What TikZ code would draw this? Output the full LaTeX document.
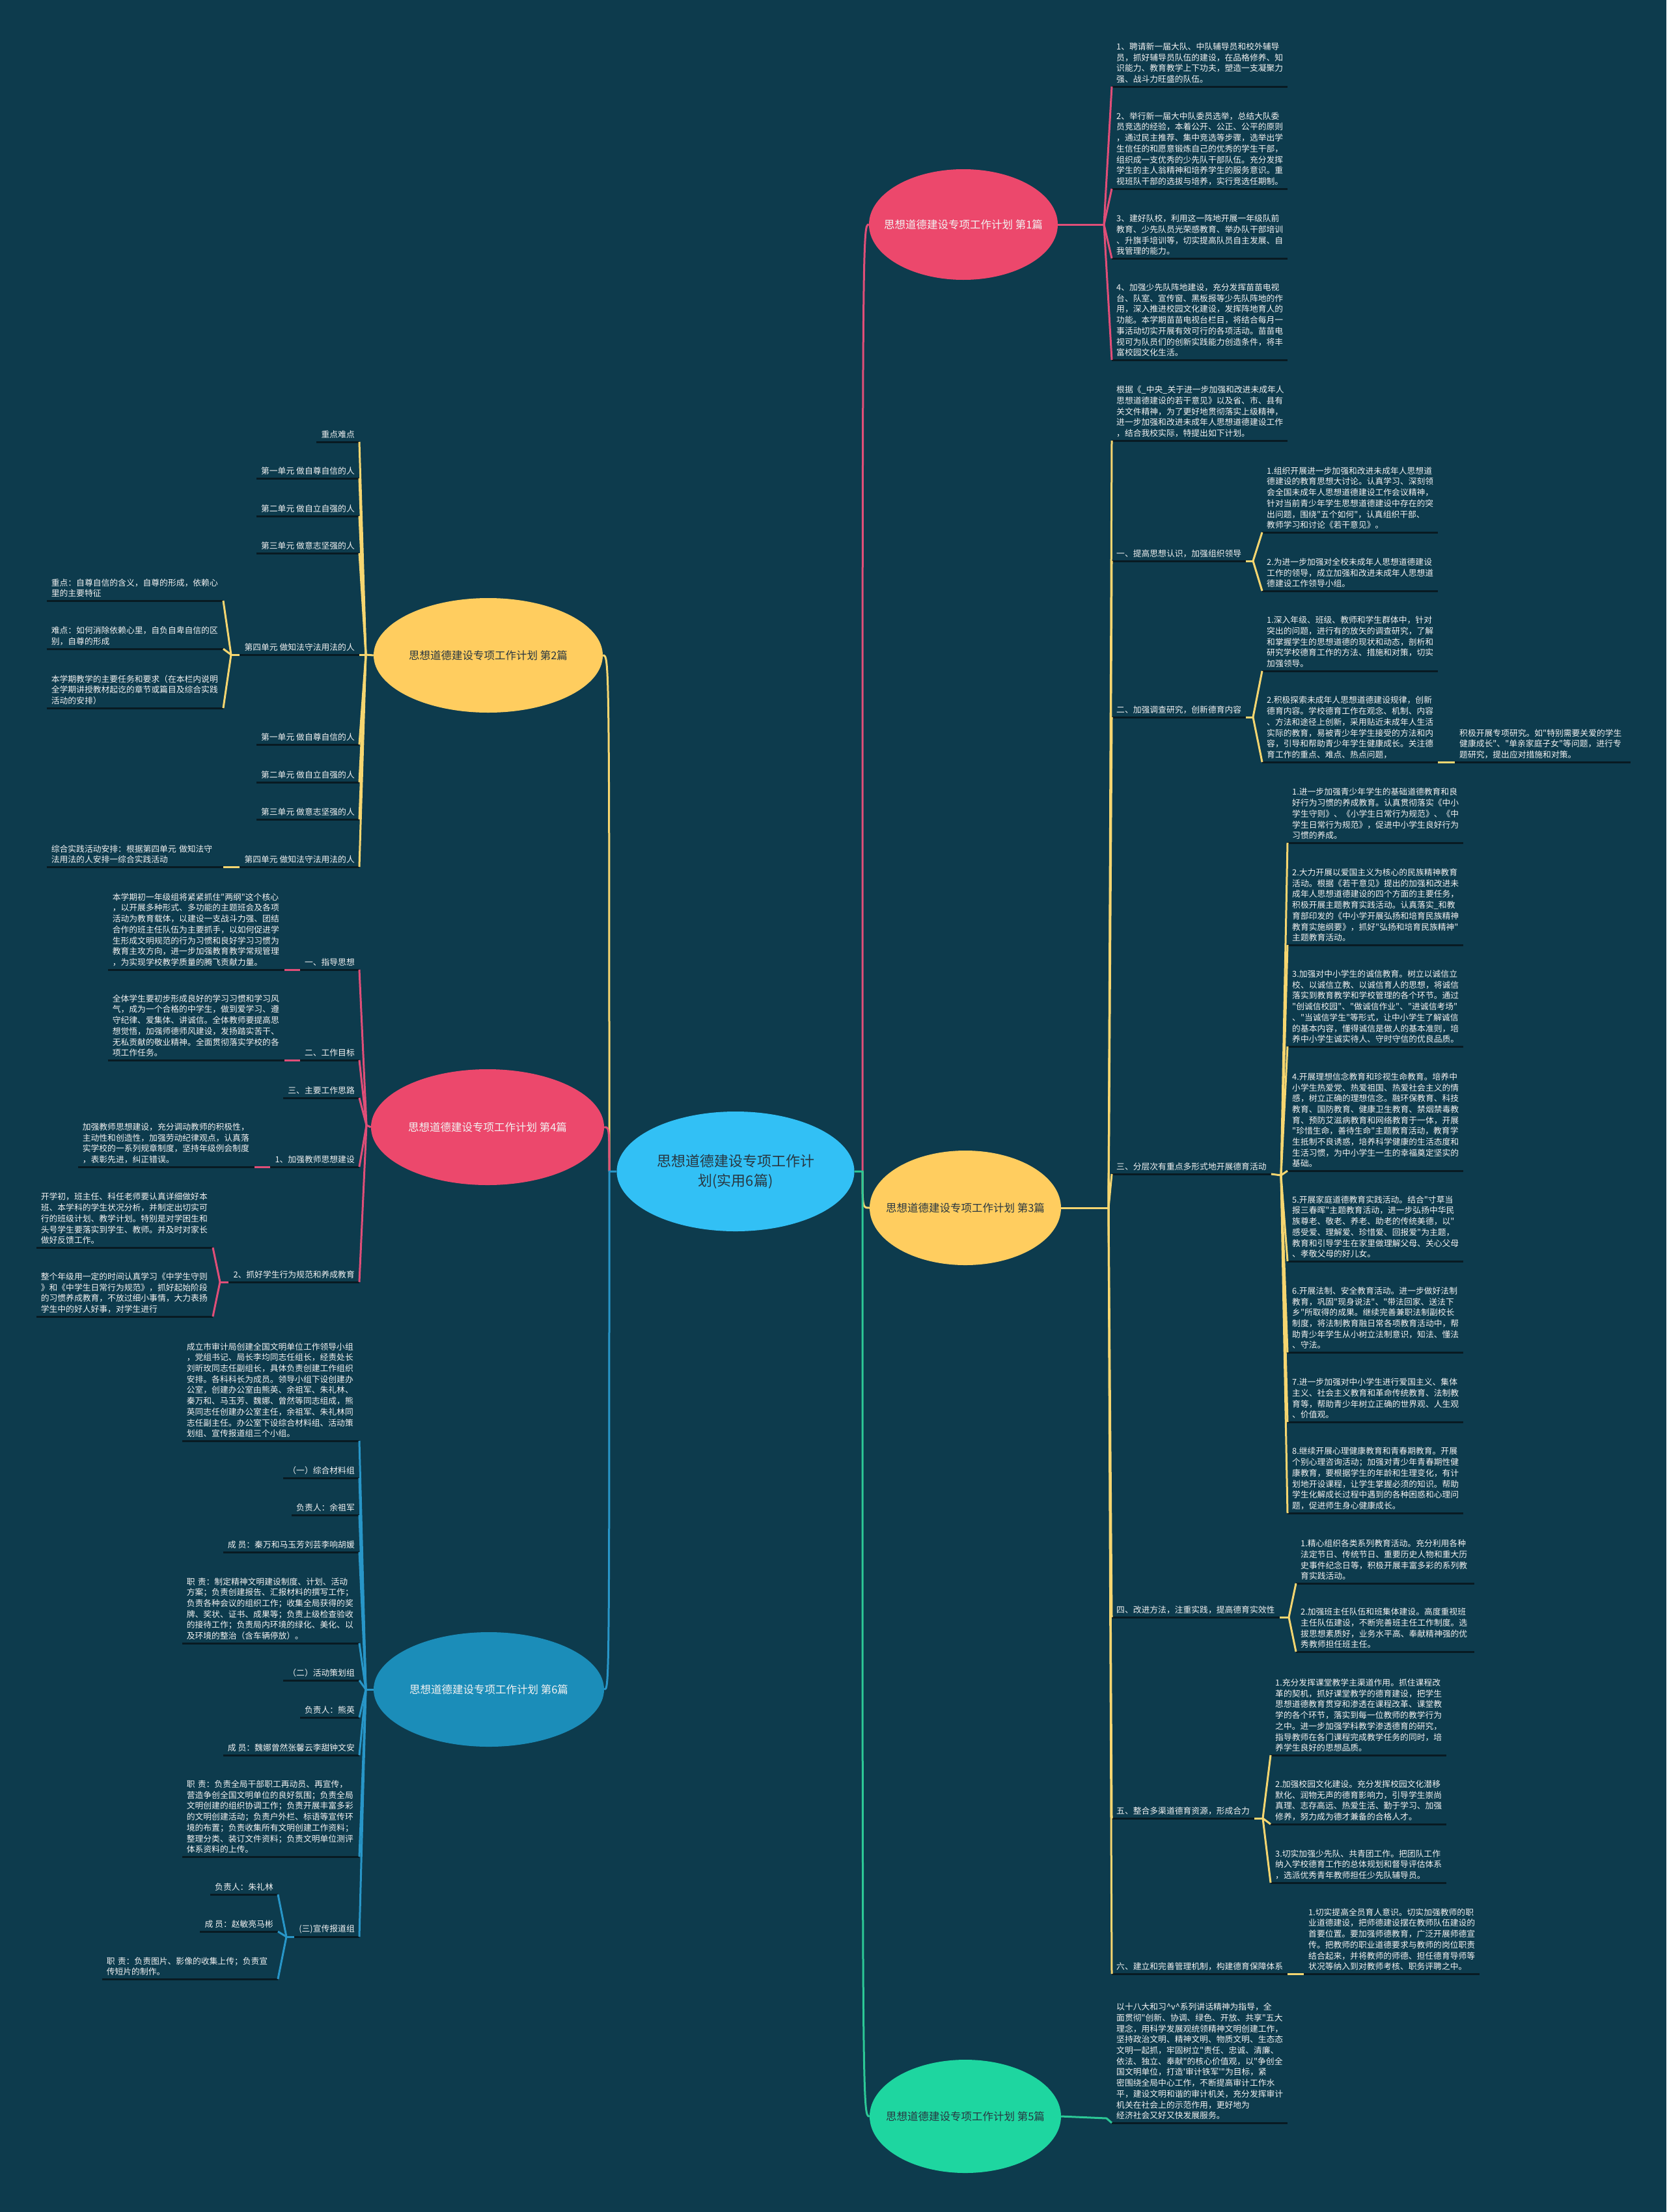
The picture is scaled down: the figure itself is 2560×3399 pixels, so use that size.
\documentclass[tikz,border=0pt]{standalone}
\usepackage{fontspec}
\setmainfont{Noto Sans CJK SC}[Ligatures=TeXOff]
\usetikzlibrary{shapes.geometric}
\definecolor{bg}{RGB}{13,59,77}
\definecolor{txt}{RGB}{242,242,242}
\definecolor{ulc}{RGB}{8,26,34}
\definecolor{cpink}{RGB}{236,72,108}
\definecolor{lpink}{RGB}{224,78,120}
\definecolor{cyel}{RGB}{255,205,95}
\definecolor{lyel}{RGB}{246,214,112}
\definecolor{cblue}{RGB}{27,141,185}
\definecolor{lblue}{RGB}{40,150,200}
\definecolor{cgreen}{RGB}{30,214,160}
\definecolor{lgreen}{RGB}{44,200,150}
\definecolor{ccent}{RGB}{50,192,245}
\definecolor{dtxt}{RGB}{40,55,65}
\newcommand\lff{\fontsize{12.8pt}{16.7pt}\selectfont}
\begin{document}
\begin{tikzpicture}[x=1pt,y=-1pt,
  lf/.style={font=\lff, text=txt, align=left, inner xsep=7pt, inner ysep=5pt},
  rleaf/.style={lf, anchor=south west},
  lleaf/.style={lf, anchor=south east},
  ul/.style={line width=3pt, draw=ulc},
  cn/.style={line width=3pt},
  br/.style={ellipse, inner sep=0pt},
  brt/.style={font=\fontsize{16.5}{20}\selectfont, inner sep=0pt}]
\fill[bg] (0,0) rectangle (2560,3399);
\useasboundingbox (0,0) rectangle (2560,3399);

% ---------- main nodes ----------
\node[br, fill=ccent, minimum width=365pt, minimum height=184pt, text=dtxt, align=center, font=\fontsize{22}{30}\selectfont] (c) at (1130,1800) {思想道德建设专项工作计\\划(实用6篇)};
\node[br, fill=cpink, minimum width=290pt, minimum height=170pt, label={[brt,text=txt]center:思想道德建设专项工作计划 第1篇}] (p1) at (1480,345) {};
\node[br, fill=cyel, minimum width=352pt, minimum height=176pt, label={[brt,text=dtxt]center:思想道德建设专项工作计划 第2篇}] (p2) at (750,1007) {};
\node[br, fill=cyel, minimum width=294pt, minimum height=176pt, label={[brt,text=dtxt]center:思想道德建设专项工作计划 第3篇}] (p3) at (1483,1856) {};
\node[br, fill=cpink, minimum width=358pt, minimum height=178pt, label={[brt,text=txt]center:思想道德建设专项工作计划 第4篇}] (p4) at (749,1732) {};
\node[br, fill=cgreen, minimum width=294pt, minimum height=174pt, label={[brt,text=dtxt]center:思想道德建设专项工作计划 第5篇}] (p5) at (1483,3252) {};
\node[br, fill=cblue, minimum width=354pt, minimum height=176pt, label={[brt,text=txt]center:思想道德建设专项工作计划 第6篇}] (p6) at (751,2596) {};

% ---------- 第1篇 ----------
\node[rleaf, text width=256pt] (a1) at (1708,133) {1、聘请新一届大队、中队辅导员和校外辅导\\员，抓好辅导员队伍的建设，在品格修养、知\\识能力、教育教学上下功夫，塑造一支凝聚力\\强、战斗力旺盛的队伍。};
\node[rleaf, text width=256pt] (a2) at (1708,290) {2、举行新一届大中队委员选举，总结大队委\\员竞选的经验，本着公开、公正、公平的原则\\，通过民主推荐、集中竞选等步骤，选举出学\\生信任的和愿意锻炼自己的优秀的学生干部，\\组织成一支优秀的少先队干部队伍。充分发挥\\学生的主人翁精神和培养学生的服务意识。重\\视班队干部的选拔与培养，实行竞选任期制。};
\node[rleaf, text width=256pt] (a3) at (1708,397) {3、建好队校，利用这一阵地开展一年级队前\\教育、少先队员光荣感教育、举办队干部培训\\、升旗手培训等，切实提高队员自主发展、自\\我管理的能力。};
\node[rleaf, text width=256pt] (a4) at (1708,553) {4、加强少先队阵地建设，充分发挥苗苗电视\\台、队室、宣传窗、黑板报等少先队阵地的作\\用，深入推进校园文化建设，发挥阵地育人的\\功能。本学期苗苗电视台栏目，将结合每月一\\事活动切实开展有效可行的各项活动。苗苗电\\视可为队员们的创新实践能力创造条件，将丰\\富校园文化生活。};

% ---------- 第3篇 ----------
\node[rleaf, text width=256pt] (b0) at (1708,677) {根据《\_中央\_关于进一步加强和改进未成年人\\思想道德建设的若干意见》以及省、市、县有\\关文件精神，为了更好地贯彻落实上级精神，\\进一步加强和改进未成年人思想道德建设工作\\，结合我校实际，特提出如下计划。};
\node[rleaf] (b1) at (1708,862) {一、提高思想认识，加强组织领导};
\node[rleaf, text width=256pt] (b11) at (1939,818) {1.组织开展进一步加强和改进未成年人思想道\\德建设的教育思想大讨论。认真学习、深刻领\\会全国未成年人思想道德建设工作会议精神，\\针对当前青少年学生思想道德建设中存在的突\\出问题，围绕"五个如何"，认真组织干部、\\教师学习和讨论《若干意见》。};
\node[rleaf, text width=256pt] (b12) at (1939,908) {2.为进一步加强对全校未成年人思想道德建设\\工作的领导，成立加强和改进未成年人思想道\\德建设工作领导小组。};
\node[rleaf] (b2) at (1708,1102) {二、加强调查研究，创新德育内容};
\node[rleaf, text width=256pt] (b21) at (1939,1031) {1.深入年级、班级、教师和学生群体中，针对\\突出的问题，进行有的放矢的调查研究，了解\\和掌握学生的思想道德的现状和动态，剖析和\\研究学校德育工作的方法、措施和对策，切实\\加强领导。};
\node[rleaf, text width=256pt] (b22) at (1939,1171) {2.积极探索未成年人思想道德建设规律，创新\\德育内容。学校德育工作在观念、机制、内容\\、方法和途径上创新，采用贴近未成年人生活\\实际的教育，易被青少年学生接受的方法和内\\容，引导和帮助青少年学生健康成长。关注德\\育工作的重点、难点、热点问题，};
\node[rleaf, text width=256pt] (b221) at (2235,1171) {积极开展专项研究。如"特别需要关爱的学生\\健康成长"、"单亲家庭子女"等问题，进行专\\题研究，提出应对措施和对策。};
\node[rleaf] (b3) at (1708,1804) {三、分层次有重点多形式地开展德育活动};
\node[rleaf, text width=256pt] (c1) at (1978,1295) {1.进一步加强青少年学生的基础道德教育和良\\好行为习惯的养成教育。认真贯彻落实《中小\\学生守则》、《小学生日常行为规范》、《中\\学生日常行为规范》，促进中小学生良好行为\\习惯的养成。};
\node[rleaf, text width=256pt] (c2) at (1978,1452) {2.大力开展以爱国主义为核心的民族精神教育\\活动。根据《若干意见》提出的加强和改进未\\成年人思想道德建设的四个方面的主要任务，\\积极开展主题教育实践活动。认真落实\_和教\\育部印发的《中小学开展弘扬和培育民族精神\\教育实施纲要》，抓好"弘扬和培育民族精神"\\主题教育活动。};
\node[rleaf, text width=256pt] (c3) at (1978,1608) {3.加强对中小学生的诚信教育。树立以诚信立\\校、以诚信立教、以诚信育人的思想，将诚信\\落实到教育教学和学校管理的各个环节。通过\\"创诚信校园"、"做诚信作业"、"进诚信考场"\\、"当诚信学生"等形式，让中小学生了解诚信\\的基本内容，懂得诚信是做人的基本准则，培\\养中小学生诚实待人、守时守信的优良品质。};
\node[rleaf, text width=256pt] (c4) at (1978,1799) {4.开展理想信念教育和珍视生命教育。培养中\\小学生热爱党、热爱祖国、热爱社会主义的情\\感，树立正确的理想信念。融环保教育、科技\\教育、国防教育、健康卫生教育、禁烟禁毒教\\育、预防艾滋病教育和网络教育于一体，开展\\"珍惜生命，善待生命"主题教育活动，教育学\\生抵制不良诱惑，培养科学健康的生活态度和\\生活习惯，为中小学生一生的幸福奠定坚实的\\基础。};
\node[rleaf, text width=256pt] (c5) at (1978,1938) {5.开展家庭道德教育实践活动。结合"寸草当\\报三春晖"主题教育活动，进一步弘扬中华民\\族尊老、敬老、养老、助老的传统美德，以"\\感受爱、理解爱、珍惜爱、回报爱"为主题，\\教育和引导学生在家里做理解父母、关心父母\\、孝敬父母的好儿女。};
\node[rleaf, text width=256pt] (c6) at (1978,2078) {6.开展法制、安全教育活动。进一步做好法制\\教育，巩固"现身说法"、"带法回家、送法下\\乡"所取得的成果。继续完善兼职法制副校长\\制度，将法制教育融日常各项教育活动中，帮\\助青少年学生从小树立法制意识，知法、懂法\\、守法。};
\node[rleaf, text width=256pt] (c7) at (1978,2185) {7.进一步加强对中小学生进行爱国主义、集体\\主义、社会主义教育和革命传统教育、法制教\\育等，帮助青少年树立正确的世界观、人生观\\、价值观。};
\node[rleaf, text width=256pt] (c8) at (1978,2325) {8.继续开展心理健康教育和青春期教育。开展\\个别心理咨询活动；加强对青少年青春期性健\\康教育，要根据学生的年龄和生理变化，有计\\划地开设课程，让学生掌握必须的知识。帮助\\学生化解成长过程中遇到的各种困惑和心理问\\题，促进师生身心健康成长。};
\node[rleaf] (b4) at (1708,2485) {四、改进方法，注重实践，提高德育实效性};
\node[rleaf, text width=260pt] (d1) at (1991,2433) {1.精心组织各类系列教育活动。充分利用各种\\法定节日、传统节日、重要历史人物和重大历\\史事件纪念日等，积极开展丰富多彩的系列教\\育实践活动。};
\node[rleaf, text width=260pt] (d2) at (1991,2538) {2.加强班主任队伍和班集体建设。高度重视班\\主任队伍建设，不断完善班主任工作制度。选\\拔思想素质好，业务水平高、奉献精神强的优\\秀教师担任班主任。};
\node[rleaf] (b5) at (1708,2794) {五、整合多渠道德育资源，形成合力};
\node[rleaf, text width=256pt] (e1) at (1952,2697) {1.充分发挥课堂教学主渠道作用。抓住课程改\\革的契机，抓好课堂教学的德育建设，把学生\\思想道德教育贯穿和渗透在课程改革、课堂教\\学的各个环节，落实到每一位教师的教学行为\\之中。进一步加强学科教学渗透德育的研究，\\指导教师在各门课程完成教学任务的同时，培\\养学生良好的思想品质。};
\node[rleaf, text width=256pt] (e2) at (1952,2803) {2.加强校园文化建设。充分发挥校园文化潜移\\默化、润物无声的德育影响力，引导学生崇尚\\真理、志存高远、热爱生活、勤于学习、加强\\修养，努力成为德才兼备的合格人才。};
\node[rleaf, text width=256pt] (e3) at (1952,2893) {3.切实加强少先队、共青团工作。把团队工作\\纳入学校德育工作的总体规划和督导评估体系\\，选派优秀青年教师担任少先队辅导员。};
\node[rleaf] (b6) at (1708,3033) {六、建立和完善管理机制，构建德育保障体系};
\node[rleaf, text width=256pt] (f1) at (2003,3033) {1.切实提高全员育人意识。切实加强教师的职\\业道德建设，把师德建设摆在教师队伍建设的\\首要位置。要加强师德教育，广泛开展师德宣\\传。把教师的职业道德要求与教师的岗位职责\\结合起来，并将教师的师德、担任德育导师等\\状况等纳入到对教师考核、职务评聘之中。};

% ---------- 第5篇 ----------
\node[rleaf, text width=256pt] (g1) at (1708,3262) {以十八大和习\textasciicircum v\textasciicircum 系列讲话精神为指导，全\\面贯彻"创新、协调、绿色、开放、共享"五大\\理念，用科学发展观统领精神文明创建工作，\\坚持政治文明、精神文明、物质文明、生态态\\文明一起抓，牢固树立"责任、忠诚、清廉、\\依法、独立、奉献"的核心价值观，以"争创全\\国文明单位，打造'审计铁军'"为目标，紧\\密围绕全局中心工作，不断提高审计工作水\\平，建设文明和谐的审计机关，充分发挥审计\\机关在社会上的示范作用，更好地为\\经济社会又好又快发展服务。};

% ---------- 第2篇 ----------
\node[lleaf] (l1) at (552,679) {重点难点};
\node[lleaf] (l2) at (552,735) {第一单元 做自尊自信的人};
\node[lleaf] (l3) at (552,793) {第二单元 做自立自强的人};
\node[lleaf] (l4) at (552,850) {第三单元 做意志坚强的人};
\node[lleaf] (l5) at (552,1006) {第四单元 做知法守法用法的人};
\node[lleaf, text width=257pt] (l51) at (343,923) {重点：自尊自信的含义，自尊的形成，依赖心\\里的主要特征};
\node[lleaf, text width=257pt] (l52) at (343,997) {难点：如何消除依赖心里，自负自卑自信的区\\别，自尊的形成};
\node[lleaf, text width=257pt] (l53) at (343,1088) {本学期教学的主要任务和要求（在本栏内说明\\全学期讲授教材起讫的章节或篇目及综合实践\\活动的安排）};
\node[lleaf] (l6) at (552,1144) {第一单元 做自尊自信的人};
\node[lleaf] (l7) at (552,1202) {第二单元 做自立自强的人};
\node[lleaf] (l8) at (552,1259) {第三单元 做意志坚强的人};
\node[lleaf] (l9) at (552,1332) {第四单元 做知法守法用法的人};
\node[lleaf, text width=257pt] (l91) at (343,1332) {综合实践活动安排：根据第四单元 做知法守\\法用法的人安排一综合实践活动};

% ---------- 第4篇 ----------
\node[lleaf] (m1) at (552,1490) {一、指导思想};
\node[lleaf, text width=257pt] (m11) at (437,1490) {本学期初一年级组将紧紧抓住"两纲"这个核心\\，以开展多种形式、多功能的主题班会及各项\\活动为教育载体，以建设一支战斗力强、团结\\合作的班主任队伍为主要抓手，以如何促进学\\生形成文明规范的行为习惯和良好学习习惯为\\教育主攻方向，进一步加强教育教学常规管理\\，为实现学校教学质量的腾飞贡献力量。};
\node[lleaf] (m2) at (552,1629) {二、工作目标};
\node[lleaf, text width=257pt] (m21) at (437,1629) {全体学生要初步形成良好的学习习惯和学习风\\气，成为一个合格的中学生，做到爱学习、遵\\守纪律、爱集体、讲诚信。全体教师要提高思\\想觉悟，加强师德师风建设，发扬踏实苦干、\\无私贡献的敬业精神。全面贯彻落实学校的各\\项工作任务。};
\node[lleaf] (m3) at (552,1687) {三、主要工作思路};
\node[lleaf] (m4) at (552,1793) {1、加强教师思想建设};
\node[lleaf, text width=257pt] (m41) at (391,1793) {加强教师思想建设，充分调动教师的积极性，\\主动性和创造性，加强劳动纪律观点，认真落\\实学校的一系列规章制度，坚持年级例会制度\\，表彰先进，纠正错误。};
\node[lleaf] (m5) at (552,1970) {2、抓好学生行为规范和养成教育};
\node[lleaf, text width=257pt] (m51) at (327,1917) {开学初，班主任、科任老师要认真详细做好本\\班、本学科的学生状况分析，并制定出切实可\\行的班级计划、教学计划。特别是对学困生和\\头号学生要落实到学生、教师。并及时对家长\\做好反馈工作。};
\node[lleaf, text width=257pt] (m52) at (327,2023) {整个年级用一定的时间认真学习《中学生守则\\》和《中学生日常行为规范》，抓好起始阶段\\的习惯养成教育，不放过细小事情，大力表扬\\学生中的好人好事，对学生进行};

% ---------- 第6篇 ----------
\node[lleaf, text width=258pt] (n1) at (552,2214) {成立市审计局创建全国文明单位工作领导小组\\，党组书记、局长李均同志任组长，经责处长\\刘昕玫同志任副组长，具体负责创建工作组织\\安排。各科科长为成员。领导小组下设创建办\\公室，创建办公室由熊英、余祖军、朱礼林、\\秦万和、马玉芳、魏娜、曾然等同志组成，熊\\英同志任创建办公室主任，余祖军、朱礼林同\\志任副主任。办公室下设综合材料组、活动策\\划组、宣传报道组三个小组。};
\node[lleaf] (n2) at (552,2271) {（一）综合材料组};
\node[lleaf] (n3) at (552,2328) {负责人：余祖军};
\node[lleaf] (n4) at (552,2385) {成 员：秦万和马玉芳刘芸李响胡媛};
\node[lleaf, text width=258pt] (n5) at (552,2525) {职 责：制定精神文明建设制度、计划、活动\\方案；负责创建报告、汇报材料的撰写工作；\\负责各种会议的组织工作；收集全局获得的奖\\牌、奖状、证书、成果等；负责上级检查验收\\的接待工作；负责局内环境的绿化、美化、以\\及环境的整治（含车辆停放）。};
\node[lleaf] (n6) at (552,2582) {（二）活动策划组};
\node[lleaf] (n7) at (552,2639) {负责人：熊英};
\node[lleaf] (n8) at (552,2697) {成 员：魏娜曾然张馨云李甜钟文安};
\node[lleaf, text width=258pt] (n9) at (552,2853) {职 责：负责全局干部职工再动员、再宣传，\\营造争创全国文明单位的良好氛围；负责全局\\文明创建的组织协调工作；负责开展丰富多彩\\的文明创建活动；负责户外栏、标语等宣传环\\境的布置；负责收集所有文明创建工作资料；\\整理分类、装订文件资料；负责文明单位测评\\体系资料的上传。};
\node[lleaf] (n10) at (552,2976) {(三)宣传报道组};
\node[lleaf] (n101) at (427,2911) {负责人：朱礼林};
\node[lleaf] (n102) at (427,2968) {成 员：赵敏亮马彬};
\node[lleaf, text width=256pt] (n103) at (427,3041) {职 责：负责图片、影像的收集上传；负责宣\\传短片的制作。};

% ---------- underlines ----------
\foreach \n in {a1,a2,a3,a4,b0,b1,b11,b12,b2,b21,b22,b221,b3,c1,c2,c3,c4,c5,c6,c7,c8,b4,d1,d2,b5,e1,e2,e3,b6,f1,g1,
  l1,l2,l3,l4,l5,l51,l52,l53,l6,l7,l8,l9,l91,m1,m11,m2,m21,m3,m4,m41,m5,m51,m52,
  n1,n2,n3,n4,n5,n6,n7,n8,n9,n10,n101,n102,n103}
  \draw[ul] (\n.south west) -- (\n.south east);

% ---------- hubs ----------
\coordinate (jR) at (1325,1800);
\coordinate (jL) at (936,1800);
\coordinate (H1) at (1696,345);
\coordinate (H3) at (1703,1856);
\coordinate (H31) at (1925,862);
\coordinate (H32) at (1925,1102);
\coordinate (H33) at (1968,1806);
\coordinate (H34) at (1980,2485);
\coordinate (H35) at (1940,2794);
\coordinate (H5) at (1700,3255);
\coordinate (H2) at (562,1006);
\coordinate (H25) at (355,1006);
\coordinate (H4) at (563,1729);
\coordinate (H45) at (338,1970);
\coordinate (H6) at (562,2596);
\coordinate (H610) at (440,2976);

% ---------- connectors: centre ----------
\draw[cn,lpink] (jR) .. controls (jR|-p1.west) .. (p1.west);
\draw[cn,lyel] (jR) .. controls (jR|-p3.west) .. (p3.west);
\draw[cn,lgreen] (c.east) -- (jR) .. controls (jR|-p5.west) .. (p5.west);
\draw[cn,lyel] (jL) .. controls (jL|-p2.east) .. (p2.east);
\draw[cn,lpink] (jL) .. controls (jL|-p4.east) .. (p4.east);
\draw[cn,lblue] (c.west) -- (jL) .. controls (jL|-p6.east) .. (p6.east);

% 第1篇
\draw[cn,lpink] (p1.east) -- (H1);
\foreach \n in {a1,a2,a3,a4} \draw[cn,lpink] (H1) -- (\n.south west);
% 第3篇
\draw[cn,lyel] (p3.east) -- (H3);
\foreach \n in {b0,b1,b2,b3,b4,b5,b6} \draw[cn,lyel] (H3) -- (\n.south west);
\draw[cn,lyel] (b1.south east) -- (H31);
\foreach \n in {b11,b12} \draw[cn,lyel] (H31) -- (\n.south west);
\draw[cn,lyel] (b2.south east) -- (H32);
\foreach \n in {b21,b22} \draw[cn,lyel] (H32) -- (\n.south west);
\draw[cn,lyel] (b22.south east) -- (b221.south west);
\draw[cn,lyel] (b3.south east) -- (H33);
\foreach \n in {c1,c2,c3,c4,c5,c6,c7,c8} \draw[cn,lyel] (H33) -- (\n.south west);
\draw[cn,lyel] (b4.south east) -- (H34);
\foreach \n in {d1,d2} \draw[cn,lyel] (H34) -- (\n.south west);
\draw[cn,lyel] (b5.south east) -- (H35);
\foreach \n in {e1,e2,e3} \draw[cn,lyel] (H35) -- (\n.south west);
\draw[cn,lyel] (b6.south east) -- (f1.south west);
% 第5篇
\draw[cn,lgreen] (p5.east) -- (H5) -- (g1.south west);
% 第2篇
\draw[cn,lyel] (p2.west) -- (H2);
\foreach \n in {l1,l2,l3,l4,l5,l6,l7,l8,l9} \draw[cn,lyel] (H2) -- (\n.south east);
\draw[cn,lyel] (l5.south west) -- (H25);
\foreach \n in {l51,l52,l53} \draw[cn,lyel] (H25) -- (\n.south east);
\draw[cn,lyel] (l9.south west) -- (l91.south east);
% 第4篇
\draw[cn,lpink] (p4.west) -- (H4);
\foreach \n in {m1,m2,m3,m4,m5} \draw[cn,lpink] (H4) -- (\n.south east);
\draw[cn,lpink] (m1.south west) -- (m11.south east);
\draw[cn,lpink] (m2.south west) -- (m21.south east);
\draw[cn,lpink] (m4.south west) -- (m41.south east);
\draw[cn,lpink] (m5.south west) -- (H45);
\foreach \n in {m51,m52} \draw[cn,lpink] (H45) -- (\n.south east);
% 第6篇
\draw[cn,lblue] (p6.west) -- (H6);
\foreach \n in {n1,n2,n3,n4,n5,n6,n7,n8,n9,n10} \draw[cn,lblue] (H6) -- (\n.south east);
\draw[cn,lblue] (n10.south west) -- (H610);
\foreach \n in {n101,n102,n103} \draw[cn,lblue] (H610) -- (\n.south east);
\end{tikzpicture}
\end{document}
